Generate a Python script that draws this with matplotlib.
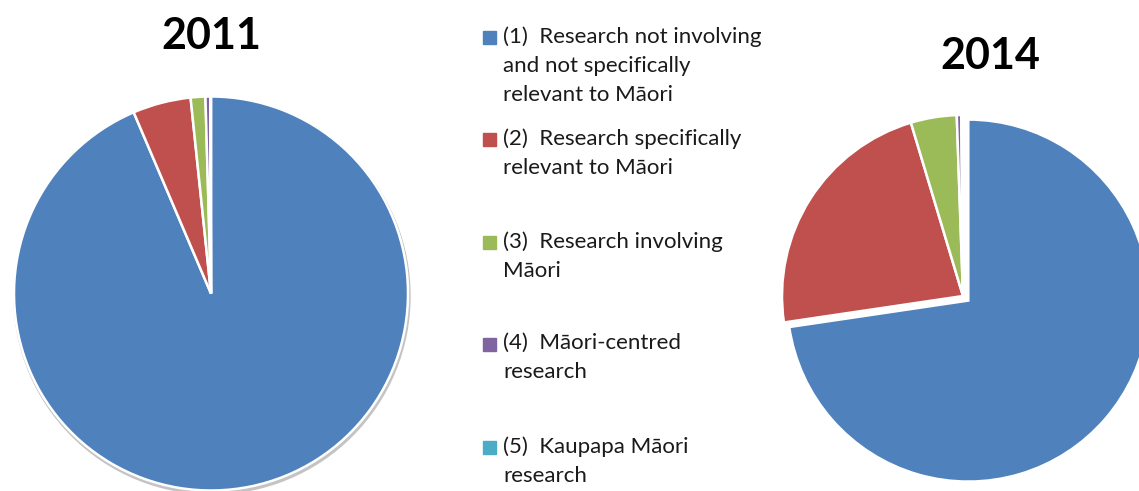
import matplotlib.pyplot as plt
from matplotlib.patches import Circle, Rectangle

plt.rcParams['font.family'] = ['Lato', 'DejaVu Sans']

labels = ['(1)  Research not involving\nand not specifically\nrelevant to Māori',
          '(2)  Research specifically\nrelevant to Māori',
          '(3)  Research involving\nMāori',
          '(4)  Māori-centred\nresearch',
          '(5)  Kaupapa Māori\nresearch']
colors = ['#4F81BD', '#C0504D', '#9BBB59', '#8064A2', '#4BACC6']
share_2011 = [93.3, 4.75, 1.2, 0.4, 0.05]
share_2014 = [72.7, 22.7, 4.1, 0.4, 0.15]

W, H = 1139, 491
fig = plt.figure(figsize=(W / 100, H / 100), dpi=100)
ax = fig.add_axes([0, 0, 1, 1])

# soft shadow under the 2011 pie
ax.add_patch(Circle((212, H - 296), 198, color='#c4c4c4', zorder=0))
ax.pie(share_2011, colors=colors, startangle=90, counterclock=False,
       center=(211, H - 293.5), radius=197, frame=True,
       wedgeprops=dict(edgecolor='white', linewidth=1.8))

# explode is in data units here (pixels), blue slice pulled out a little
ax.pie(share_2014, colors=colors, startangle=90, counterclock=False,
       center=(963, H - 296), radius=181, frame=True,
       explode=[7, 0, 0, 0, 0],
       wedgeprops=dict(edgecolor='white', linewidth=1.8))

ax.text(211, H - 36, '2011', ha='center', va='center', fontsize=31, fontweight='bold')
ax.text(990, H - 56, '2014', ha='center', va='center', fontsize=31, fontweight='bold')

# legend, drawn by hand to keep the wide spacing
leg_y = [37, 139, 242, 344, 447]
for lab, col, y in zip(labels, colors, leg_y):
    ax.add_patch(Rectangle((483, H - y - 6.5), 13, 13, color=col))
    ax.text(503, H - y + 11, lab, ha='left', va='top', fontsize=16,
            linespacing=1.56, color='#1a1a1a')

ax.set_xlim(0, W)
ax.set_ylim(0, H)
ax.set_aspect('equal')
ax.axis('off')

fig.savefig('out.png', dpi=100)
